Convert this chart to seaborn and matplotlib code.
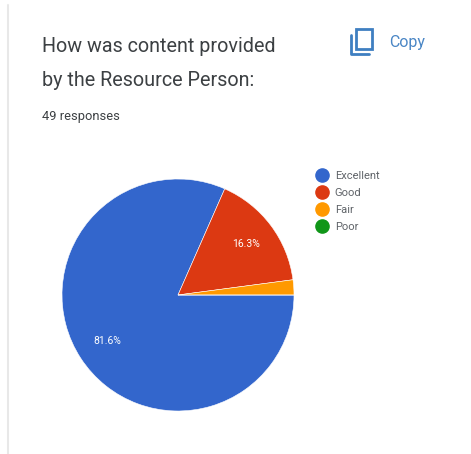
import matplotlib
matplotlib.use("Agg")
import matplotlib.pyplot as plt
import matplotlib.patches as mpatches
from matplotlib.lines import Line2D
import seaborn as sns

sns.set_theme(style="white")
plt.rcParams['font.family'] = ['Roboto', 'DejaVu Sans']

categories = ['Excellent', 'Good', 'Fair', 'Poor']
shares = [81.6, 16.3, 2.1, 0.0]
colors = ['#3366cc', '#dc3912', '#ff9900', '#109618']
title_lines = ['How was content provided', 'by the Resource Person:']
responses = '49 responses'
W, H = 471, 454


def pct_label(p):
    return f'{p:.1f}%' if p > 5 else ''


fig = plt.figure(figsize=(W / 100, H / 100), dpi=100, facecolor='white')
ax = fig.add_axes([0, 0, 1, 1])

wedges, _, autotexts = ax.pie(shares, colors=colors, startangle=0, counterclock=True,
                              center=(178, 295), radius=116, frame=True,
                              autopct=pct_label, pctdistance=0.73,
                              wedgeprops={'linewidth': 0.4, 'edgecolor': 'white'},
                              textprops={'color': 'white', 'fontsize': 7.5})
ax.set_xlim(0, W)
ax.set_ylim(H, 0)
ax.set_aspect('auto')
ax.axis('off')

# page edge on the left
ax.plot([7.5, 7.5], [5, H], color='#e8e8e8', lw=1.5)

ax.text(42, 52, title_lines[0], fontsize=14.2, color='#3c4043', va='baseline')
ax.text(42, 86, title_lines[1], fontsize=14.2, color='#3c4043', va='baseline')
ax.text(42, 120, responses, fontsize=9.3, color='#3c4043', va='baseline')

# copy button
ax.add_patch(mpatches.Rectangle((356, 29), 16, 20, fill=False, ec='#3f7fc1', lw=2))
ax.plot([351, 351, 369], [35, 54, 54], color='#3f7fc1', lw=2)
ax.text(389, 47, 'Copy', fontsize=11.5, color='#4a86c5', va='baseline')

handles = [Line2D([], [], marker='o', ls='', ms=9.5, color=c) for c in colors]
ax.legend(handles, categories, loc='upper left', bbox_to_anchor=(308 / W, 1 - 168 / H),
          frameon=False, fontsize=8, labelspacing=0.62, handletextpad=0.1,
          borderpad=0.3, borderaxespad=0, labelcolor='#5f6368')

fig.savefig('out.png', dpi=100)
